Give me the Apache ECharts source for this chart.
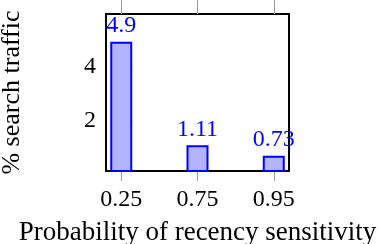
<!DOCTYPE html>
<html>
<head>
<meta charset="utf-8">
<script src="https://cdn.jsdelivr.net/npm/echarts@6/dist/echarts.min.js"></script>
<style>html,body{margin:0;padding:0;background:#fff}#c{width:380px;height:244px}</style>
</head>
<body>
<div id="c"></div>
<script>
const categories = ['0.25', '0.75', '0.95'];
const values = [4.9, 1.11, 0.73];
const yTicks = [2, 4];
const xTicks = [0, 1, 2];

const FONT = 'Liberation Serif';
const chart = echarts.init(document.getElementById('c'), null, {renderer: 'canvas'});
const xRange = {min: -0.2, max: 2.2};
const yRange = {min: 0.172, max: 5.912};
chart.setOption({
  animation: false,
  grid: {left: 106, top: 14, width: 183, height: 157, show: true, borderColor: '#000', borderWidth: 2,
         backgroundColor: 'transparent', containLabel: false, outerBoundsMode: 'none'},
  xAxis: [
    {type: 'value', position: 'bottom', ...xRange,
     axisLine: {show: false}, splitLine: {show: false},
     axisTick: {show: true, customValues: xTicks, length: 10, inside: false, lineStyle: {color: '#999', width: 1}},
     axisLabel: {customValues: xTicks, formatter: v => categories[Math.round(v)], fontFamily: FONT, fontSize: 24, color: '#000', margin: 17},
     name: 'Probability of recency sensitivity', nameLocation: 'middle', nameGap: 48,
     nameTextStyle: {fontFamily: FONT, fontSize: 27, color: '#000'}},
    {type: 'value', position: 'top', ...xRange,
     axisLine: {show: false}, splitLine: {show: false},
     axisTick: {show: true, customValues: xTicks, length: 14, inside: false, lineStyle: {color: '#999', width: 1}},
     axisLabel: {show: false}}
  ],
  yAxis: [
    {type: 'value', position: 'left', ...yRange,
     axisLine: {show: false}, splitLine: {show: false},
     axisTick: {show: true, customValues: yTicks, length: 11, inside: true, lineStyle: {color: '#999', width: 1}},
     axisLabel: {customValues: yTicks, fontFamily: FONT, fontSize: 24, color: '#000', margin: 10},
     name: '% search traffic', nameLocation: 'middle', nameGap: 81, nameRotate: 90,
     nameTextStyle: {fontFamily: FONT, fontSize: 26, color: '#000'}},
    {type: 'value', position: 'right', ...yRange,
     axisLine: {show: false}, splitLine: {show: false},
     axisTick: {show: true, customValues: yTicks, length: 11, inside: true, lineStyle: {color: '#999', width: 1}},
     axisLabel: {show: false}}
  ],
  series: [{
    type: 'bar',
    xAxisIndex: 0, yAxisIndex: 0,
    data: values.map((v, i) => [xTicks[i], v]),
    barWidth: 22,
    clip: true,
    itemStyle: {color: '#b3b3ff', borderColor: '#0000ff', borderWidth: 2},
    label: {show: true, position: 'top', distance: 4, color: '#0000ff', fontFamily: FONT, fontSize: 24,
            formatter: p => String(p.value[1])}
  }]
});
</script>
</body>
</html>
